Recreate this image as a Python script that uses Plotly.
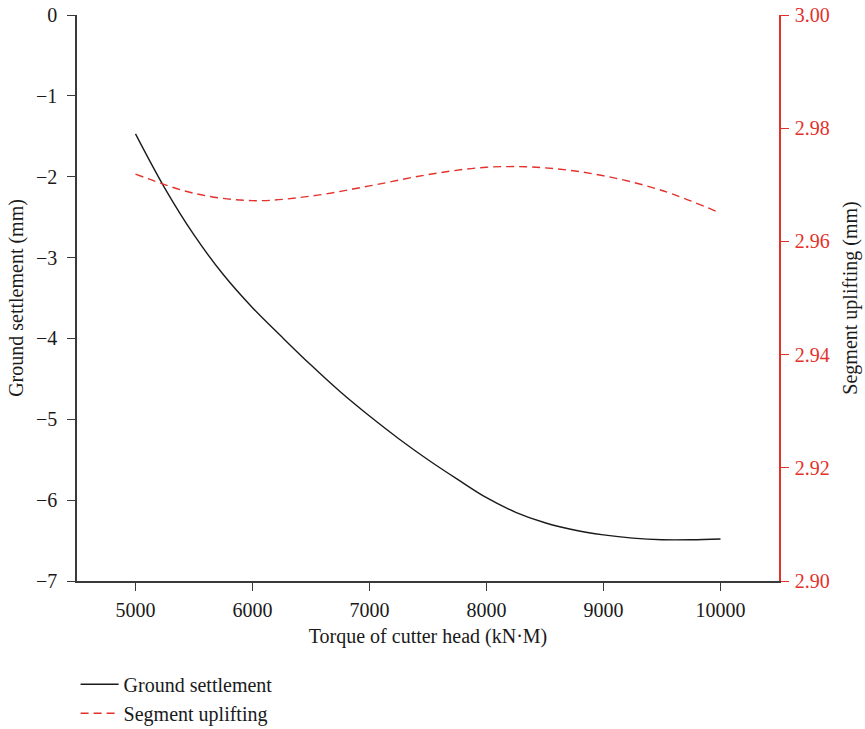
import plotly.graph_objects as go

# Torque of cutter head (kN·M)
torque_gs = [5000, 5250, 5500, 5750, 6000, 6250, 6500, 6750, 7000, 7250, 7500,
             7750, 8000, 8250, 8500, 8750, 9000, 9250, 9500, 9750, 10000]
# Ground settlement (mm)
ground_settlement = [-1.47, -2.14, -2.72, -3.21, -3.62, -3.98, -4.33, -4.66, -4.96, -5.24, -5.50,
                     -5.74, -5.97, -6.15, -6.28, -6.37, -6.43, -6.47, -6.49, -6.49, -6.48]

torque_su = [5000, 5500, 6000, 6500, 7000, 7500, 8000, 8500, 9000, 9500, 10000]
# Segment uplifting (mm)
segment_uplifting = [2.9719, 2.9685, 2.9672, 2.9680, 2.9698, 2.9718, 2.9731, 2.9730, 2.9716, 2.9690, 2.9650]

x_ticks = [5000, 6000, 7000, 8000, 9000, 10000]
x_tick_text = ["5000", "6000", "7000", "8000", "9000", "10000"]
left_ticks = [0, -1, -2, -3, -4, -5, -6, -7]
right_ticks = [2.90, 2.92, 2.94, 2.96, 2.98, 3.00]

FONT = "Liberation Serif"
FS = 20
RED = "#e3312b"
AXIS = "#3a3a3a"

fig = go.Figure()
fig.add_trace(go.Scatter(
    x=torque_gs, y=ground_settlement, mode="lines", name="Ground settlement",
    line=dict(color="#1a1a1a", width=1.4, shape="spline", smoothing=1.0),
))
fig.add_trace(go.Scatter(
    x=torque_su, y=segment_uplifting, mode="lines", name="Segment uplifting", yaxis="y2",
    line=dict(color=RED, width=1.4, dash="8px,5px", shape="spline", smoothing=1.0),
))

fig.update_layout(
    width=865, height=729,
    margin=dict(l=77, r=86, t=15, b=148, autoexpand=False),
    plot_bgcolor="white", paper_bgcolor="white",
    font=dict(family=FONT, size=FS, color="#1a1a1a"),
    showlegend=True,
    legend=dict(x=-0.002, y=-0.148, xanchor="left", yanchor="top",
                font=dict(family=FONT, size=FS, color="#1a1a1a"),
                tracegroupgap=0, itemwidth=38, bgcolor="rgba(0,0,0,0)"),
    xaxis=dict(
        range=[4500, 10500], tickvals=x_ticks, ticktext=x_tick_text,
        ticks="outside", ticklen=8, ticklabelstandoff=2,
        tickcolor=AXIS, showline=True, linecolor=AXIS, linewidth=1.5,
        showgrid=False, zeroline=False,
        title=dict(text="Torque of cutter head (kN·M)", standoff=9,
                   font=dict(family=FONT, size=FS)),
        tickfont=dict(family=FONT, size=FS),
    ),
    yaxis=dict(
        range=[-7, 0], tickvals=left_ticks, ticks="outside", ticklen=8,
        ticklabelstandoff=6,
        tickcolor=AXIS, showline=True, linecolor=AXIS, linewidth=1.5,
        showgrid=False, zeroline=False,
        title=dict(text="Ground settlement (mm)", standoff=7,
                   font=dict(family=FONT, size=FS)),
        tickfont=dict(family=FONT, size=FS),
    ),
    yaxis2=dict(
        range=[2.90, 3.00], tickvals=right_ticks, tickformat=".2f",
        overlaying="y", side="right", ticks="outside", ticklen=8,
        ticklabelstandoff=2,
        tickcolor=RED, showline=True, linecolor=RED, linewidth=1.5,
        showgrid=False, zeroline=False,
        title=dict(text="Segment uplifting (mm)", standoff=14,
                   font=dict(family=FONT, size=FS, color="#1a1a1a")),
        tickfont=dict(family=FONT, size=FS, color=RED),
    ),
)

fig.write_html("out.html")
